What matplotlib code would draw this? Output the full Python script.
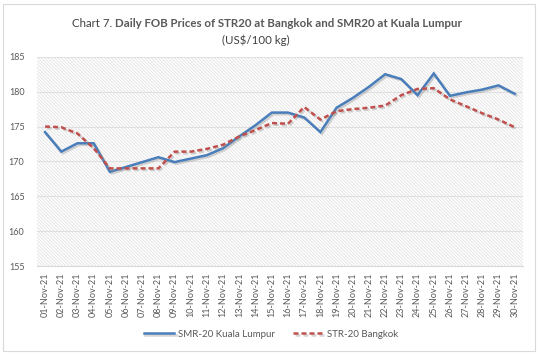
import matplotlib.pyplot as plt
import matplotlib.patheffects as pe
from matplotlib.patches import Rectangle

plt.rcParams['font.family'] = ['Lato', 'DejaVu Sans']
plt.rcParams['hatch.color'] = '#e2e2e2'
plt.rcParams['hatch.linewidth'] = 0.6

days = ["%02d-Nov-21" % d for d in range(1, 31)]
smr20_kl = [174.2, 171.4, 172.6, 172.6, 168.5, 169.2, 169.9, 170.6, 169.9, 170.4,
            170.9, 171.9, 173.6, 175.2, 177.0, 177.0, 176.3, 174.2, 177.7, 179.1,
            180.7, 182.5, 181.8, 179.5, 182.6, 179.4, 179.9, 180.3, 180.9, 179.7]
str20_bkk = [175.0, 174.9, 174.0, 171.9, 169.0, 169.0, 169.0, 169.0, 171.4, 171.4,
             171.8, 172.4, 173.6, 174.5, 175.5, 175.4, 177.8, 176.0, 177.2, 177.5,
             177.7, 178.0, 179.5, 180.4, 180.5, 178.9, 177.9, 176.9, 176.0, 174.9]

fig = plt.figure(figsize=(5.39, 3.55), dpi=100)
# outer chart border
fig.patches.append(Rectangle((0.006, 0.012), 0.986, 0.978, transform=fig.transFigure,
                             fill=False, edgecolor='#d9d9d9', linewidth=0.8))

ax = fig.add_axes([0.0686, 0.2507, 0.9014, 0.5893])
ax.add_patch(Rectangle((0, 0), 1, 1, transform=ax.transAxes, facecolor='white',
                       hatch='\\' * 10, edgecolor='#e2e2e2', linewidth=0, zorder=0))

x = list(range(len(days)))
shadow = [pe.SimpleLineShadow(offset=(1.2, -1.2), shadow_color='#888888', alpha=0.35), pe.Normal()]
ax.plot(x, smr20_kl, color='#4a7ebb', lw=1.8, label='SMR-20 Kuala Lumpur',
        path_effects=shadow, zorder=3, solid_joinstyle='miter')
ax.plot(x, str20_bkk, color='#c0504d', lw=1.8, dashes=(2.0, 1.2), label='STR-20 Bangkok',
        path_effects=shadow, zorder=3)

ax.set_xlim(-0.5, 29.5)
ax.set_ylim(155, 185)
ax.set_yticks(range(155, 186, 5))
ax.set_xticks(x)
ax.set_xticklabels(days, rotation=90)
ax.tick_params(axis='both', length=0, labelsize=6.5, colors='#595959')
ax.tick_params(axis='y', pad=9)
ax.tick_params(axis='x', pad=5)
ax.grid(axis='y', color='#e0e0e0', lw=0.8)
ax.set_axisbelow(True)
for s in ['top', 'right', 'left']:
    ax.spines[s].set_visible(False)
ax.spines['bottom'].set_color('#d9d9d9')

leg = fig.legend(loc='center', bbox_to_anchor=(0.503, 0.059), ncol=2, frameon=False,
                 fontsize=7, handlelength=3.1, columnspacing=1.9, handletextpad=0.4)
for t in leg.get_texts():
    t.set_color('#595959')

# title with mixed weights
fig.canvas.draw()
r = fig.canvas.get_renderer()
t1 = fig.text(0, 0.935, "Chart 7. ", fontsize=8.3, color='#404040', va='center')
t2 = fig.text(0, 0.935, "Daily FOB Prices of STR20 at Bangkok and SMR20 at Kuala Lumpur",
              fontsize=8.3, fontweight='bold', color='#595959', va='center')
w1 = t1.get_window_extent(r).width
w2 = t2.get_window_extent(r).width
W = fig.get_figwidth() * fig.dpi
x0 = (W - w1 - w2) / 2 / W - 0.005
t1.set_x(x0)
t2.set_x(x0 + w1 / W)
fig.text(0.475, 0.888, "(US$/100 kg)", fontsize=8.3, color='#404040', ha='center', va='center')

fig.savefig('out.png', dpi=100)
